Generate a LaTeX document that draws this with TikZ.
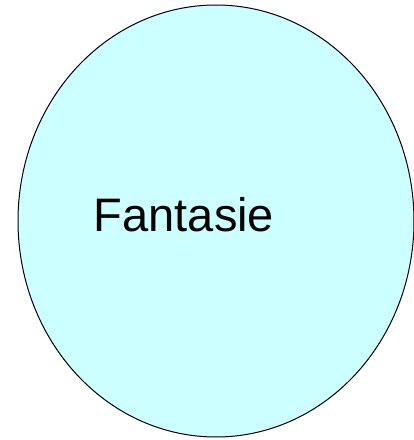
\documentclass[tikz,border=0pt]{standalone}
\usepackage{fontspec}
\setmainfont{Liberation Sans}
\definecolor{paleblue}{HTML}{CCFFFF}
\tikzset{px/.style={x=1pt,y=1pt,line width=1pt}}

\begin{document}
\begin{tikzpicture}[px]
  \useasboundingbox (0,0) rectangle (414,440);
  % ellipse with label
  \filldraw[fill=paleblue,draw=black] (216,219) ellipse (198 and 216);
  \node[inner sep=0pt,anchor=base,font=\fontsize{47}{50}\selectfont] (fant) at (184,208) {Fantasie};
\end{tikzpicture}
\end{document}
